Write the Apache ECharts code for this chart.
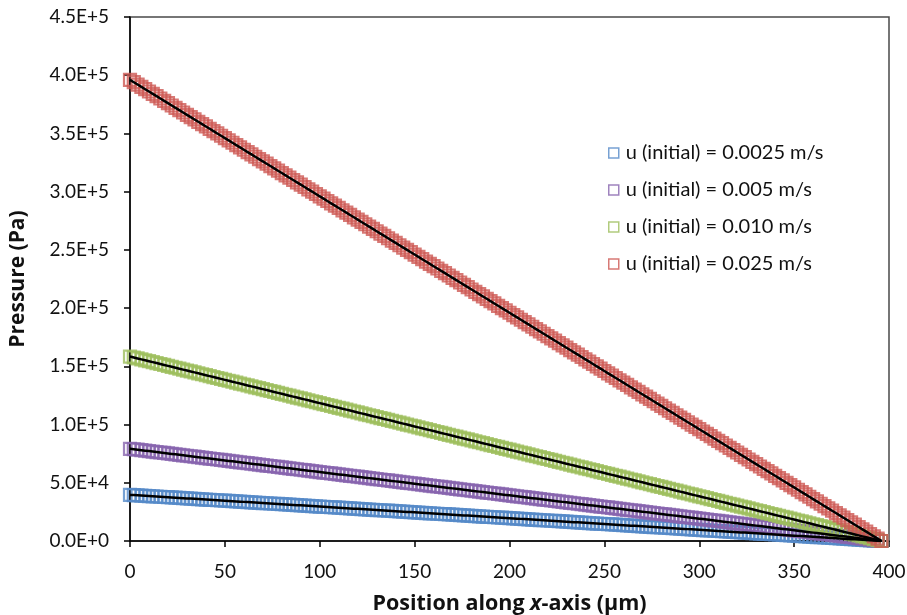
<!DOCTYPE html>
<html>
<head>
<meta charset="utf-8">
<script src="https://cdn.jsdelivr.net/npm/echarts@6/dist/echarts.min.js"></script>
<style>
  html, body { margin: 0; padding: 0; background: #fff; }
  #chart { width: 907px; height: 615px; }
</style>
</head>
<body>
<div id="chart"></div>
<script>
// Position along the channel (µm)
const positions = [
  0,2,4,6,8,10,12,14,16,18,
  20,22,24,26,28,30,32,34,36,38,
  40,42,44,46,48,50,52,54,56,58,
  60,62,64,66,68,70,72,74,76,78,
  80,82,84,86,88,90,92,94,96,98,
  100,102,104,106,108,110,112,114,116,118,
  120,122,124,126,128,130,132,134,136,138,
  140,142,144,146,148,150,152,154,156,158,
  160,162,164,166,168,170,172,174,176,178,
  180,182,184,186,188,190,192,194,196,198,
  200,202,204,206,208,210,212,214,216,218,
  220,222,224,226,228,230,232,234,236,238,
  240,242,244,246,248,250,252,254,256,258,
  260,262,264,266,268,270,272,274,276,278,
  280,282,284,286,288,290,292,294,296,298,
  300,302,304,306,308,310,312,314,316,318,
  320,322,324,326,328,330,332,334,336,338,
  340,342,344,346,348,350,352,354,356,358,
  360,362,364,366,368,370,372,374,376,378,
  380,382,384,386,388,390,392,394,396
];

// Pressure (Pa), u(initial) = 0.0025 m/s
const pressureU0025 = [
  39600,39400,39200,39000,38800,38600,38400,38200,38000,37800,
  37600,37400,37200,37000,36800,36600,36400,36200,36000,35800,
  35600,35400,35200,35000,34800,34600,34400,34200,34000,33800,
  33600,33400,33200,33000,32800,32600,32400,32200,32000,31800,
  31600,31400,31200,31000,30800,30600,30400,30200,30000,29800,
  29600,29400,29200,29000,28800,28600,28400,28200,28000,27800,
  27600,27400,27200,27000,26800,26600,26400,26200,26000,25800,
  25600,25400,25200,25000,24800,24600,24400,24200,24000,23800,
  23600,23400,23200,23000,22800,22600,22400,22200,22000,21800,
  21600,21400,21200,21000,20800,20600,20400,20200,20000,19800,
  19600,19400,19200,19000,18800,18600,18400,18200,18000,17800,
  17600,17400,17200,17000,16800,16600,16400,16200,16000,15800,
  15600,15400,15200,15000,14800,14600,14400,14200,14000,13800,
  13600,13400,13200,13000,12800,12600,12400,12200,12000,11800,
  11600,11400,11200,11000,10800,10600,10400,10200,10000,9800,
  9600,9400,9200,9000,8800,8600,8400,8200,8000,7800,
  7600,7400,7200,7000,6800,6600,6400,6200,6000,5800,
  5600,5400,5200,5000,4800,4600,4400,4200,4000,3800,
  3600,3400,3200,3000,2800,2600,2400,2200,2000,1800,
  1600,1400,1200,1000,800,600,400,200,0
];

// Pressure (Pa), u(initial) = 0.005 m/s
const pressureU005 = [
  79200,78800,78400,78000,77600,77200,76800,76400,76000,75600,
  75200,74800,74400,74000,73600,73200,72800,72400,72000,71600,
  71200,70800,70400,70000,69600,69200,68800,68400,68000,67600,
  67200,66800,66400,66000,65600,65200,64800,64400,64000,63600,
  63200,62800,62400,62000,61600,61200,60800,60400,60000,59600,
  59200,58800,58400,58000,57600,57200,56800,56400,56000,55600,
  55200,54800,54400,54000,53600,53200,52800,52400,52000,51600,
  51200,50800,50400,50000,49600,49200,48800,48400,48000,47600,
  47200,46800,46400,46000,45600,45200,44800,44400,44000,43600,
  43200,42800,42400,42000,41600,41200,40800,40400,40000,39600,
  39200,38800,38400,38000,37600,37200,36800,36400,36000,35600,
  35200,34800,34400,34000,33600,33200,32800,32400,32000,31600,
  31200,30800,30400,30000,29600,29200,28800,28400,28000,27600,
  27200,26800,26400,26000,25600,25200,24800,24400,24000,23600,
  23200,22800,22400,22000,21600,21200,20800,20400,20000,19600,
  19200,18800,18400,18000,17600,17200,16800,16400,16000,15600,
  15200,14800,14400,14000,13600,13200,12800,12400,12000,11600,
  11200,10800,10400,10000,9600,9200,8800,8400,8000,7600,
  7200,6800,6400,6000,5600,5200,4800,4400,4000,3600,
  3200,2800,2400,2000,1600,1200,800,400,0
];

// Pressure (Pa), u(initial) = 0.010 m/s
const pressureU010 = [
  158400,157600,156800,156000,155200,154400,153600,152800,152000,151200,
  150400,149600,148800,148000,147200,146400,145600,144800,144000,143200,
  142400,141600,140800,140000,139200,138400,137600,136800,136000,135200,
  134400,133600,132800,132000,131200,130400,129600,128800,128000,127200,
  126400,125600,124800,124000,123200,122400,121600,120800,120000,119200,
  118400,117600,116800,116000,115200,114400,113600,112800,112000,111200,
  110400,109600,108800,108000,107200,106400,105600,104800,104000,103200,
  102400,101600,100800,100000,99200,98400,97600,96800,96000,95200,
  94400,93600,92800,92000,91200,90400,89600,88800,88000,87200,
  86400,85600,84800,84000,83200,82400,81600,80800,80000,79200,
  78400,77600,76800,76000,75200,74400,73600,72800,72000,71200,
  70400,69600,68800,68000,67200,66400,65600,64800,64000,63200,
  62400,61600,60800,60000,59200,58400,57600,56800,56000,55200,
  54400,53600,52800,52000,51200,50400,49600,48800,48000,47200,
  46400,45600,44800,44000,43200,42400,41600,40800,40000,39200,
  38400,37600,36800,36000,35200,34400,33600,32800,32000,31200,
  30400,29600,28800,28000,27200,26400,25600,24800,24000,23200,
  22400,21600,20800,20000,19200,18400,17600,16800,16000,15200,
  14400,13600,12800,12000,11200,10400,9600,8800,8000,7200,
  6400,5600,4800,4000,3200,2400,1600,800,0
];

// Pressure (Pa), u(initial) = 0.025 m/s
const pressureU025 = [
  396000,394000,392000,390000,388000,386000,384000,382000,380000,378000,
  376000,374000,372000,370000,368000,366000,364000,362000,360000,358000,
  356000,354000,352000,350000,348000,346000,344000,342000,340000,338000,
  336000,334000,332000,330000,328000,326000,324000,322000,320000,318000,
  316000,314000,312000,310000,308000,306000,304000,302000,300000,298000,
  296000,294000,292000,290000,288000,286000,284000,282000,280000,278000,
  276000,274000,272000,270000,268000,266000,264000,262000,260000,258000,
  256000,254000,252000,250000,248000,246000,244000,242000,240000,238000,
  236000,234000,232000,230000,228000,226000,224000,222000,220000,218000,
  216000,214000,212000,210000,208000,206000,204000,202000,200000,198000,
  196000,194000,192000,190000,188000,186000,184000,182000,180000,178000,
  176000,174000,172000,170000,168000,166000,164000,162000,160000,158000,
  156000,154000,152000,150000,148000,146000,144000,142000,140000,138000,
  136000,134000,132000,130000,128000,126000,124000,122000,120000,118000,
  116000,114000,112000,110000,108000,106000,104000,102000,100000,98000,
  96000,94000,92000,90000,88000,86000,84000,82000,80000,78000,
  76000,74000,72000,70000,68000,66000,64000,62000,60000,58000,
  56000,54000,52000,50000,48000,46000,44000,42000,40000,38000,
  36000,34000,32000,30000,28000,26000,24000,22000,20000,18000,
  16000,14000,12000,10000,8000,6000,4000,2000,0
];

const seriesNames = [
  'u (initial) = 0.0025 m/s',
  'u (initial) = 0.005 m/s',
  'u (initial) = 0.010 m/s',
  'u (initial) = 0.025 m/s'
];
const seriesValues = [pressureU0025, pressureU005, pressureU010, pressureU025];
const seriesColors = ['#5589c8', '#8764ae', '#9dbe5c', '#cd5853'];

const FONT = 'Lato, "Open Sans", sans-serif';
const TITLE_FONT = '"Open Sans", Lato, sans-serif';

function pairs(values) {
  return positions.map((x, i) => [x, values[i]]);
}

// Hollow square markers for each inlet velocity
const markerSeries = seriesValues.map((vals, i) => ({
  name: seriesNames[i],
  type: 'scatter',
  data: pairs(vals),
  symbol: 'rect',
  symbolSize: 12,
  itemStyle: {
    color: 'rgba(255,255,255,0)',
    borderColor: seriesColors[i],
    borderWidth: 2.2
  },
  z: 2 + i,
  silent: true
}));

// Black trend line through each data set
const modelSeries = seriesValues.map((vals, i) => ({
  name: 'model ' + i,
  type: 'line',
  data: pairs(vals),
  showSymbol: false,
  symbol: 'none',
  lineStyle: { color: '#000', width: 2.5 },
  z: 10,
  silent: true
}));

const chart = echarts.init(document.getElementById('chart'), null, { renderer: 'canvas' });
chart.setOption({
  animation: false,
  backgroundColor: '#fff',
  textStyle: { fontFamily: FONT },
  grid: {
    left: 130, right: 18, top: 17, bottom: 74,
    outerBoundsMode: 'none',
    containLabel: false,
    show: true,
    borderColor: '#4a4a4a',
    borderWidth: 1.5,
    backgroundColor: 'transparent'
  },
  legend: {
    data: seriesNames,
    orient: 'vertical',
    left: 603,
    top: 138,
    itemWidth: 10,
    itemHeight: 10,
    itemGap: 17,
    icon: 'rect',
    itemStyle: { borderWidth: 1.5 },
    textStyle: { fontFamily: FONT, fontSize: 20, color: '#111', padding: [0, 0, 0, 2] }
  },
  xAxis: {
    type: 'value',
    min: 0,
    max: 400,
    interval: 50,
    name: '{b|Position along }{bi|x}{b|-axis (μm)}',
    nameLocation: 'middle',
    nameGap: 52,
    nameTextStyle: {
      rich: {
        b: { fontFamily: TITLE_FONT, fontSize: 21.5, fontWeight: 'bold', color: '#111' },
        bi: { fontFamily: TITLE_FONT, fontSize: 21.5, fontWeight: 'bold', fontStyle: 'italic', color: '#111' }
      }
    },
    axisLine: { lineStyle: { color: '#000', width: 1.5 } },
    axisTick: { show: true, inside: false, length: 6, lineStyle: { color: '#000', width: 1.5 } },
    axisLabel: { fontFamily: FONT, fontSize: 19, color: '#111', margin: 21 },
    splitLine: { show: false }
  },
  yAxis: {
    type: 'value',
    min: 0,
    max: 450000,
    interval: 50000,
    name: 'Pressure (Pa)',
    nameLocation: 'middle',
    nameGap: 101,
    nameTextStyle: { fontFamily: TITLE_FONT, fontSize: 21, fontWeight: 'bold', color: '#111' },
    axisLine: { lineStyle: { color: '#000', width: 1.5 } },
    axisTick: { show: true, inside: false, length: 6, lineStyle: { color: '#000', width: 1.5 } },
    axisLabel: {
      fontFamily: FONT,
      fontSize: 19,
      color: '#111',
      margin: 21,
      formatter: v => v.toExponential(1).toUpperCase()
    },
    splitLine: { show: false }
  },
  series: markerSeries.concat(modelSeries)
});
</script>
</body>
</html>
